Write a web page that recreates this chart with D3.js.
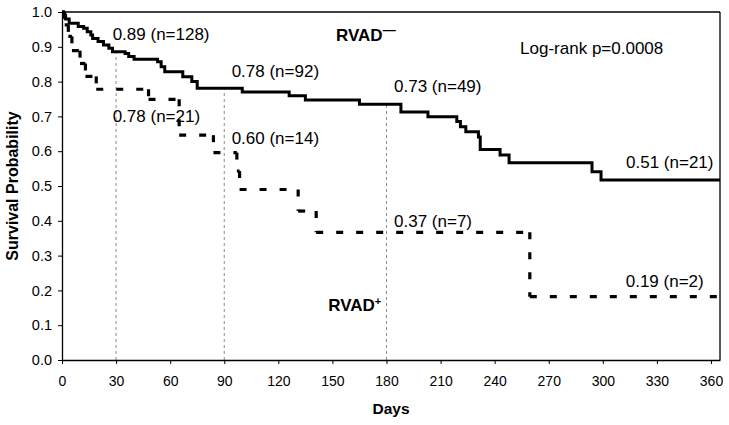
<!DOCTYPE html>
<html>
<head>
<meta charset="utf-8">
<script src="https://cdn.jsdelivr.net/npm/d3@7"></script>
<style>
  html, body { margin: 0; padding: 0; background: #fff; }
  svg { display: block; font-family: "Liberation Sans", Arial, sans-serif; }
</style>
</head>
<body>
<svg id="chart" width="729" height="425"></svg>
<script>
// ---- data ----
const minusDays = [0, 1, 2, 4, 9, 12, 14, 16, 17, 20, 23, 26, 28, 35, 37, 40, 53, 55, 57, 67, 72, 75, 100, 126, 135, 165, 188, 203, 219, 221, 224, 231, 232, 243, 248, 294, 299];
const minusSurv = [1.0, 0.99, 0.98, 0.968, 0.958, 0.953, 0.943, 0.934, 0.924, 0.915, 0.905, 0.896, 0.886, 0.881, 0.872, 0.864, 0.857, 0.843, 0.828, 0.814, 0.80, 0.781, 0.770, 0.759, 0.747, 0.735, 0.713, 0.699, 0.685, 0.670, 0.656, 0.641, 0.605, 0.589, 0.567, 0.541, 0.517];
const plusDays = [0, 1.5, 3.5, 5.5, 10, 13, 19, 48, 65, 84, 97, 98.5, 131, 141, 259.5];
const plusSurv = [1.0, 0.963, 0.930, 0.889, 0.852, 0.815, 0.778, 0.749, 0.646, 0.596, 0.543, 0.490, 0.428, 0.367, 0.182];
const followUpEnd = 365;
const xTicks = [0, 30, 60, 90, 120, 150, 180, 210, 240, 270, 300, 330, 360];
const yTicks = [0, 0.1, 0.2, 0.3, 0.4, 0.5, 0.6, 0.7, 0.8, 0.9, 1.0];
const refDays = [30, 90, 180];
const annotTexts = ["0.89 (n=128)", "0.78 (n=21)", "0.78 (n=92)", "0.60 (n=14)", "0.73 (n=49)", "0.51 (n=21)", "0.37 (n=7)", "0.19 (n=2)"];
const pValueText = "Log-rank p=0.0008";

// ---- layout (positions in data units) ----
const annotPos = [[28.1, 0.919], [28.1, 0.685], [94.1, 0.812], [94.1, 0.621], [184.2, 0.771], [312.9, 0.551], [184.2, 0.383], [312.7, 0.211]];
const pValuePos = [254.1, 0.878];
const minusLabelPos = [152, 0.918];
const plusLabelPos = [147.7, 0.142];

const svg = d3.select("#chart");
const L = 62, R = 720, T = 12, B = 360;
const x = d3.scaleLinear().domain([0, 365]).range([L, R]);
const y = d3.scaleLinear().domain([0, 1]).range([B, T]);

function stepPts(days, surv) {
  const pts = days.map((d, i) => [d, surv[i]]);
  pts.push([followUpEnd, surv[surv.length - 1]]);
  return pts;
}
// step segments (each horizontal run and each vertical drop separately)
function stepSegments(days, surv) {
  const segs = [];
  for (let i = 0; i < days.length; i++) {
    const end = i + 1 < days.length ? days[i + 1] : followUpEnd;
    segs.push([[days[i], surv[i]], [end, surv[i]]]);
    if (i + 1 < days.length) segs.push([[end, surv[i]], [end, surv[i + 1]]]);
  }
  return segs;
}
const line = d3.line().x(d => x(d[0])).y(d => y(d[1])).curve(d3.curveStepAfter);

function survAt(days, surv, t) {
  let v = surv[0];
  for (let i = 0; i < days.length; i++) if (days[i] <= t) v = surv[i];
  return v;
}

// reference lines
svg.append("g").selectAll("line").data(refDays).join("line")
  .attr("x1", d => x(d)).attr("x2", d => x(d))
  .attr("y1", y(0)).attr("y2", d => y(survAt(minusDays, minusSurv, d)))
  .attr("stroke", "#8a8a8a").attr("stroke-width", 1).attr("stroke-dasharray", "3,3");

// box: top and right
svg.append("line").attr("x1", L).attr("x2", R).attr("y1", T).attr("y2", T).attr("stroke", "#000").attr("stroke-width", 1.3);
svg.append("line").attr("x1", R).attr("x2", R).attr("y1", T).attr("y2", B).attr("stroke", "#000").attr("stroke-width", 1.3);

// axes
const xAxis = svg.append("g").attr("transform", `translate(0,${B})`)
  .call(d3.axisBottom(x).tickValues(xTicks).tickSize(4).tickPadding(12).tickSizeOuter(0));
const yAxis = svg.append("g").attr("transform", `translate(${L},0)`)
  .call(d3.axisLeft(y).tickValues(yTicks).tickFormat(d3.format(".1f")).tickSize(4).tickPadding(6).tickSizeOuter(0));
[xAxis, yAxis].forEach(g => {
  g.select(".domain").attr("stroke", "#000").attr("stroke-width", 1.3);
  g.selectAll(".tick line").attr("stroke", "#000");
  g.selectAll(".tick text").attr("fill", "#000").style("font-family", "'Liberation Sans', Arial, sans-serif");
});
xAxis.selectAll(".tick text").style("font-size", "14px");
yAxis.selectAll(".tick text").style("font-size", "14.5px");

// curves
svg.append("g").selectAll("line").data(stepSegments(plusDays, plusSurv)).join("line")
  .attr("x1", d => x(d[0][0])).attr("y1", d => y(d[0][1]))
  .attr("x2", d => x(d[1][0])).attr("y2", d => y(d[1][1]))
  .attr("stroke", "#000").attr("stroke-width", 3.2).attr("stroke-dasharray", "7,13");
svg.append("path").datum(stepPts(minusDays, minusSurv)).attr("d", line)
  .attr("fill", "none").attr("stroke", "#000").attr("stroke-width", 3);

// annotations
svg.append("g").selectAll("text").data(annotTexts).join("text")
  .attr("x", (d, i) => x(annotPos[i][0])).attr("y", (d, i) => y(annotPos[i][1]))
  .attr("font-size", 17).attr("fill", "#000").text(d => d);
svg.append("text").attr("x", x(pValuePos[0])).attr("y", y(pValuePos[1]))
  .attr("font-size", 17).attr("fill", "#000").text(pValueText);

const lm = svg.append("text").attr("x", x(minusLabelPos[0])).attr("y", y(minusLabelPos[1]))
  .attr("font-size", 17).attr("font-weight", "bold").attr("fill", "#000");
lm.append("tspan").text("RVAD");
lm.append("tspan").attr("dy", -7).attr("font-size", 13).text("—");
const lp = svg.append("text").attr("x", x(plusLabelPos[0])).attr("y", y(plusLabelPos[1]))
  .attr("font-size", 17).attr("font-weight", "bold").attr("fill", "#000");
lp.append("tspan").text("RVAD");
lp.append("tspan").attr("dy", -6).attr("font-size", 11).text("+");

// axis titles
svg.append("text").attr("x", (L + R) / 2).attr("y", 414).attr("text-anchor", "middle")
  .attr("font-size", 15.5).attr("font-weight", "bold").text("Days");
svg.append("text").attr("transform", `translate(18,${(T + B) / 2}) rotate(-90)`).attr("text-anchor", "middle")
  .attr("font-size", 16).attr("font-weight", "bold").text("Survival Probability");
</script>
</body>
</html>
